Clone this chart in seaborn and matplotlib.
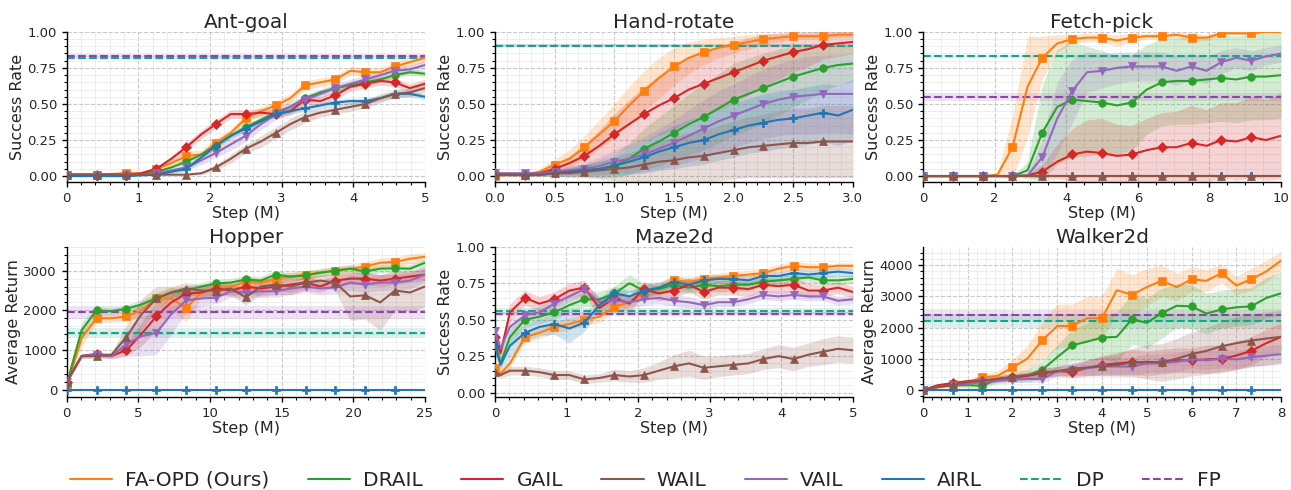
import numpy as np
import matplotlib
matplotlib.use("Agg")
import matplotlib.pyplot as plt
from matplotlib.lines import Line2D
from matplotlib.ticker import MultipleLocator, AutoMinorLocator, FormatStrFormatter
import seaborn as sns

# ============================================
# 数据
# ============================================
METHODS = ['FA-OPD (Ours)', 'DRAIL', 'GAIL', 'WAIL', 'VAIL', 'AIRL']
COLORS = {'FA-OPD (Ours)': '#ff7f0e', 'DRAIL': '#2ca02c', 'GAIL': '#d62728',
          'WAIL': '#8c564b', 'VAIL': '#9467bd', 'AIRL': '#1f77b4'}
MARKERS = {'FA-OPD (Ours)': 's', 'DRAIL': 'o', 'GAIL': 'D',
           'WAIL': '^', 'VAIL': 'v', 'AIRL': 'P'}
DP_COLOR = '#17a589'
FP_COLOR = '#8e44ad'

# --- Ant-goal ---
ant_x = [0, 0.21, 0.42, 0.62, 0.83, 1.04, 1.25, 1.46, 1.67, 1.88, 2.08, 2.29, 2.5,
         2.71, 2.92, 3.12, 3.33, 3.54, 3.75, 3.96, 4.17, 4.38, 4.58, 4.79, 5.0]
ant_faopd = [0.01, 0.01, 0.01, 0.015, 0.02, 0.02, 0.05, 0.09, 0.14, 0.15, 0.23, 0.30, 0.40,
             0.45, 0.49, 0.54, 0.63, 0.65, 0.67, 0.73, 0.72, 0.72, 0.76, 0.79, 0.82]
ant_drail = [0.01, 0.01, 0.01, 0.01, 0.01, 0.015, 0.03, 0.06, 0.10, 0.15, 0.21, 0.28, 0.34,
             0.39, 0.44, 0.48, 0.54, 0.58, 0.61, 0.63, 0.65, 0.67, 0.70, 0.72, 0.71]
ant_gail = [0.01, 0.01, 0.01, 0.01, 0.01, 0.02, 0.05, 0.12, 0.20, 0.29, 0.36, 0.43, 0.43,
            0.44, 0.43, 0.45, 0.53, 0.52, 0.56, 0.62, 0.64, 0.66, 0.65, 0.61, 0.64]
ant_wail = [0.01, 0.01, 0.01, 0.01, 0.01, 0.01, 0.01, 0.01, 0.01, 0.02, 0.06, 0.12, 0.19,
            0.24, 0.30, 0.36, 0.41, 0.44, 0.46, 0.48, 0.50, 0.54, 0.57, 0.58, 0.61]
ant_vail = [0.01, 0.01, 0.01, 0.01, 0.01, 0.01, 0.02, 0.04, 0.06, 0.11, 0.16, 0.22, 0.28,
            0.36, 0.43, 0.48, 0.53, 0.57, 0.61, 0.64, 0.67, 0.70, 0.73, 0.74, 0.77]
ant_airl = [0.0, 0.0, 0.0, 0.0, 0.0, 0.005, 0.01, 0.03, 0.05, 0.13, 0.21, 0.28, 0.33,
            0.38, 0.43, 0.45, 0.47, 0.49, 0.51, 0.52, 0.52, 0.54, 0.57, 0.57, 0.55]
ant_faopd_sd = [0, 0, 0, 0, 0.005, 0.005, 0.01, 0.02, 0.03, 0.03, 0.03, 0.03, 0.03,
                0.03, 0.03, 0.03, 0.03, 0.03, 0.03, 0.03, 0.03, 0.03, 0.03, 0.03, 0.03]
ant_drail_sd = [0, 0, 0, 0, 0, 0.005, 0.01, 0.015, 0.02, 0.02, 0.02, 0.02, 0.02,
                0.02, 0.02, 0.02, 0.02, 0.02, 0.02, 0.02, 0.02, 0.02, 0.02, 0.02, 0.02]
ant_gail_sd = [0, 0, 0, 0, 0, 0.005, 0.01, 0.02, 0.03, 0.03, 0.03, 0.03, 0.03,
               0.03, 0.03, 0.03, 0.03, 0.03, 0.03, 0.03, 0.03, 0.03, 0.03, 0.03, 0.03]
ant_wail_sd = [0, 0, 0, 0, 0, 0, 0, 0, 0.005, 0.01, 0.02, 0.03, 0.03,
               0.04, 0.04, 0.04, 0.04, 0.03, 0.03, 0.03, 0.03, 0.03, 0.03, 0.03, 0.03]
ant_vail_sd = [0, 0, 0, 0, 0, 0, 0.005, 0.01, 0.02, 0.03, 0.03, 0.04, 0.04,
               0.04, 0.04, 0.04, 0.03, 0.03, 0.03, 0.03, 0.03, 0.03, 0.03, 0.03, 0.03]
ant_airl_sd = [0, 0, 0, 0, 0, 0, 0.005, 0.01, 0.02, 0.02, 0.02, 0.02, 0.02,
               0.02, 0.02, 0.02, 0.02, 0.02, 0.02, 0.02, 0.02, 0.02, 0.02, 0.02, 0.02]
ant_dp, ant_dp_sd = 0.82, 0.01
ant_fp, ant_fp_sd = 0.835, 0.01

# --- Hand-rotate ---
hand_x = [0, 0.125, 0.25, 0.375, 0.5, 0.625, 0.75, 0.875, 1.0, 1.125, 1.25, 1.375, 1.5,
          1.625, 1.75, 1.875, 2.0, 2.125, 2.25, 2.375, 2.5, 2.625, 2.75, 2.875, 3.0]
hand_faopd = [0.0, 0.01, 0.01, 0.03, 0.08, 0.12, 0.20, 0.29, 0.38, 0.49, 0.59, 0.68, 0.76,
              0.82, 0.86, 0.89, 0.91, 0.93, 0.95, 0.96, 0.97, 0.97, 0.97, 0.98, 0.98]
hand_drail = [0.01, 0.01, 0.01, 0.01, 0.02, 0.03, 0.04, 0.05, 0.07, 0.12, 0.19, 0.24, 0.30,
              0.36, 0.41, 0.47, 0.53, 0.57, 0.61, 0.65, 0.69, 0.72, 0.75, 0.77, 0.78]
hand_gail = [0.02, 0.01, 0.01, 0.02, 0.05, 0.09, 0.14, 0.21, 0.29, 0.36, 0.43, 0.49, 0.54,
             0.60, 0.64, 0.68, 0.72, 0.76, 0.80, 0.83, 0.86, 0.88, 0.91, 0.92, 0.93]
hand_wail = [0.01, 0.01, 0.01, 0.01, 0.02, 0.02, 0.03, 0.04, 0.05, 0.06, 0.08, 0.10, 0.11,
             0.13, 0.14, 0.16, 0.18, 0.20, 0.21, 0.22, 0.23, 0.23, 0.24, 0.24, 0.24]
hand_vail = [0.02, 0.02, 0.02, 0.02, 0.03, 0.04, 0.05, 0.07, 0.10, 0.12, 0.15, 0.19, 0.23,
             0.28, 0.33, 0.38, 0.42, 0.46, 0.50, 0.53, 0.55, 0.56, 0.57, 0.57, 0.57]
hand_airl = [0.01, 0.01, 0.01, 0.01, 0.02, 0.03, 0.04, 0.05, 0.07, 0.10, 0.13, 0.17, 0.20,
             0.23, 0.25, 0.29, 0.32, 0.35, 0.37, 0.39, 0.40, 0.42, 0.44, 0.42, 0.46]
hand_faopd_sd = [0.005, 0.01, 0.01, 0.02, 0.04, 0.06, 0.08, 0.10, 0.12, 0.13, 0.14, 0.14, 0.13,
                 0.11, 0.09, 0.07, 0.06, 0.05, 0.04, 0.03, 0.02, 0.02, 0.02, 0.02, 0.02]
hand_drail_sd = [0.005, 0.005, 0.01, 0.01, 0.02, 0.03, 0.04, 0.06, 0.08, 0.11, 0.14, 0.17, 0.19,
                 0.21, 0.23, 0.24, 0.25, 0.25, 0.24, 0.23, 0.21, 0.19, 0.16, 0.14, 0.12]
hand_gail_sd = [0.005, 0.01, 0.01, 0.02, 0.03, 0.05, 0.08, 0.11, 0.14, 0.17, 0.19, 0.21, 0.22,
                0.22, 0.22, 0.22, 0.21, 0.20, 0.18, 0.16, 0.14, 0.12, 0.10, 0.09, 0.08]
hand_wail_sd = [0.005, 0.01, 0.01, 0.01, 0.02, 0.03, 0.04, 0.06, 0.08, 0.10, 0.12, 0.14, 0.16,
                0.17, 0.18, 0.19, 0.20, 0.21, 0.22, 0.23, 0.24, 0.24, 0.25, 0.25, 0.25]
hand_vail_sd = [0.01, 0.01, 0.01, 0.01, 0.02, 0.03, 0.04, 0.06, 0.08, 0.10, 0.12, 0.14, 0.16,
                0.18, 0.20, 0.21, 0.22, 0.23, 0.24, 0.25, 0.26, 0.27, 0.27, 0.27, 0.28]
hand_airl_sd = [0.005, 0.01, 0.01, 0.01, 0.02, 0.03, 0.04, 0.05, 0.07, 0.09, 0.11, 0.13, 0.15,
                0.16, 0.17, 0.18, 0.19, 0.19, 0.20, 0.20, 0.20, 0.20, 0.20, 0.21, 0.21]
hand_dp, hand_dp_sd = 0.905, 0.01
hand_fp, hand_fp_sd = 0.905, 0.012

# --- Fetch-pick ---
fetch_x = [0, 0.42, 0.83, 1.25, 1.67, 2.08, 2.5, 2.92, 3.33, 3.75, 4.17, 4.58, 5.0,
           5.42, 5.83, 6.25, 6.67, 7.08, 7.5, 7.92, 8.33, 8.75, 9.17, 9.58, 10.0]
fetch_faopd = [0, 0, 0, 0, 0, 0.01, 0.20, 0.62, 0.82, 0.92, 0.95, 0.96, 0.96,
               0.94, 0.96, 0.97, 0.97, 0.98, 0.96, 0.96, 0.99, 0.99, 0.99, 1.0, 1.0]
fetch_drail = [0, 0, 0, 0, 0, 0, 0, 0.04, 0.30, 0.48, 0.53, 0.52, 0.51,
               0.49, 0.51, 0.60, 0.65, 0.66, 0.66, 0.67, 0.68, 0.67, 0.69, 0.69, 0.70]
fetch_gail = [0, 0, 0, 0, 0, 0, 0, 0.005, 0.03, 0.10, 0.15, 0.17, 0.16,
              0.14, 0.15, 0.18, 0.20, 0.20, 0.23, 0.21, 0.25, 0.24, 0.27, 0.25, 0.28]
fetch_wail = [0, 0, 0, 0, 0, 0, 0, 0, 0, 0, 0, 0, 0,
              0, 0, 0, 0, 0, 0, 0, 0, 0, 0, 0, 0]
fetch_vail = [0, 0, 0, 0, 0, 0, 0, 0.005, 0.13, 0.40, 0.59, 0.72, 0.73,
              0.75, 0.76, 0.76, 0.76, 0.73, 0.76, 0.73, 0.79, 0.82, 0.80, 0.83, 0.85]
fetch_airl = [0, 0, 0, 0, 0, 0, 0, 0, 0, 0, 0, 0, 0,
              0, 0, 0, 0, 0, 0, 0, 0, 0, 0, 0, 0]
fetch_faopd_sd = [0, 0, 0, 0, 0, 0.01, 0.22, 0.35, 0.15, 0.06, 0.03, 0.03, 0.03,
                  0.04, 0.03, 0.02, 0.02, 0.02, 0.03, 0.02, 0.01, 0.01, 0.01, 0.01, 0.01]
fetch_drail_sd = [0, 0, 0, 0, 0, 0, 0, 0.06, 0.33, 0.40, 0.40, 0.38, 0.36,
                  0.34, 0.33, 0.31, 0.30, 0.30, 0.30, 0.30, 0.30, 0.30, 0.30, 0.30, 0.30]
fetch_gail_sd = [0, 0, 0, 0, 0, 0, 0, 0.01, 0.05, 0.12, 0.18, 0.22, 0.24,
                 0.22, 0.20, 0.22, 0.24, 0.25, 0.26, 0.25, 0.26, 0.27, 0.28, 0.28, 0.30]
fetch_wail_sd = [0, 0, 0, 0, 0, 0, 0, 0, 0, 0, 0, 0, 0,
                 0, 0, 0, 0, 0, 0, 0, 0, 0, 0, 0, 0]
fetch_vail_sd = [0, 0, 0, 0, 0, 0, 0, 0.01, 0.12, 0.25, 0.22, 0.14, 0.12,
                 0.11, 0.10, 0.10, 0.10, 0.10, 0.09, 0.09, 0.08, 0.07, 0.07, 0.06, 0.06]
fetch_airl_sd = [0, 0, 0, 0, 0, 0, 0, 0, 0, 0, 0, 0, 0,
                 0, 0, 0, 0, 0, 0, 0, 0, 0, 0, 0, 0]
fetch_dp, fetch_dp_sd = 0.83, 0.01
fetch_fp, fetch_fp_sd = 0.548, 0.03

# --- Hopper ---
hop_x = [0, 1.04, 2.08, 3.12, 4.17, 5.21, 6.25, 7.29, 8.33, 9.38, 10.42, 11.46, 12.5,
         13.54, 14.58, 15.62, 16.67, 17.71, 18.75, 19.79, 20.83, 21.88, 22.92, 23.96, 25.0]
hop_faopd = [100, 1300, 1800, 1800, 1850, 2000, 2300, 2300, 2060, 2450, 2550, 2600, 2730,
             2700, 2800, 2850, 2900, 2950, 3000, 3050, 3100, 3200, 3220, 3300, 3350]
hop_drail = [150, 1500, 2000, 1980, 2040, 2150, 2300, 2450, 2500, 2600, 2680, 2700, 2780,
             2750, 2900, 2850, 2880, 2950, 3000, 3050, 2980, 3050, 3060, 3050, 3200]
hop_gail = [200, 850, 900, 850, 1000, 1400, 1850, 2200, 2420, 2450, 2550, 2500, 2600,
            2550, 2600, 2650, 2700, 2600, 2750, 2800, 2800, 2750, 2800, 2850, 2900]
hop_wail = [200, 850, 850, 880, 1330, 1900, 2300, 2450, 2550, 2500, 2500, 2550, 2330,
            2600, 2650, 2600, 2700, 2750, 2700, 2350, 2380, 2200, 2500, 2450, 2600]
hop_vail = [200, 850, 880, 850, 1150, 1350, 1430, 1900, 2250, 2300, 2320, 2480, 2450,
            2480, 2480, 2550, 2600, 2550, 2580, 2700, 2650, 2700, 2700, 2750, 2900]
hop_airl = [0, 0, 0, 0, 0, 0, 0, 0, 0, 0, 0, 0, 0,
            0, 0, 0, 0, 0, 0, 0, 0, 0, 0, 0, 0]
hop_faopd_sd = [50, 200, 120, 100, 120, 150, 150, 300, 350, 150, 100, 100, 100,
                100, 120, 120, 100, 100, 100, 100, 120, 120, 120, 120, 100]
hop_drail_sd = [50, 200, 100, 80, 100, 100, 120, 120, 100, 100, 100, 100, 100,
                100, 100, 100, 100, 100, 100, 100, 100, 100, 100, 100, 100]
hop_gail_sd = [50, 50, 60, 60, 150, 300, 350, 300, 200, 150, 150, 150, 150,
               200, 200, 250, 200, 150, 150, 150, 150, 150, 150, 150, 150]
hop_wail_sd = [50, 50, 60, 60, 300, 400, 300, 150, 150, 150, 150, 150, 200,
               200, 150, 150, 150, 150, 200, 600, 600, 700, 500, 500, 500]
hop_vail_sd = [50, 50, 60, 80, 300, 500, 550, 500, 300, 200, 150, 150, 150,
               150, 150, 150, 150, 150, 150, 200, 200, 200, 200, 200, 200]
hop_airl_sd = [0, 0, 0, 0, 0, 0, 0, 0, 0, 0, 0, 0, 0,
               0, 0, 0, 0, 0, 0, 0, 0, 0, 0, 0, 0]
hop_dp, hop_dp_sd = 1430, 120
hop_fp, hop_fp_sd = 1950, 160

# --- Maze2d ---
maze_x = [0, 0.08, 0.21, 0.42, 0.62, 0.83, 1.04, 1.25, 1.46, 1.67, 1.88, 2.08, 2.29,
          2.5, 2.71, 2.92, 3.12, 3.33, 3.54, 3.75, 3.96, 4.17, 4.38, 4.58, 4.79, 5.0]
maze_faopd = [0.17, 0.13, 0.20, 0.38, 0.41, 0.45, 0.47, 0.50, 0.52, 0.59, 0.62, 0.68, 0.72,
              0.77, 0.76, 0.78, 0.79, 0.80, 0.81, 0.82, 0.85, 0.87, 0.86, 0.86, 0.87, 0.87]
maze_drail = [0.35, 0.20, 0.38, 0.50, 0.52, 0.55, 0.60, 0.64, 0.64, 0.68, 0.75, 0.70, 0.71,
              0.74, 0.72, 0.74, 0.73, 0.74, 0.74, 0.76, 0.77, 0.78, 0.79, 0.77, 0.77, 0.78]
maze_gail = [0.38, 0.27, 0.55, 0.65, 0.61, 0.64, 0.70, 0.72, 0.58, 0.65, 0.61, 0.71, 0.68,
             0.70, 0.74, 0.69, 0.72, 0.72, 0.71, 0.74, 0.73, 0.74, 0.70, 0.70, 0.72, 0.69]
maze_wail = [0.14, 0.12, 0.15, 0.15, 0.14, 0.12, 0.12, 0.09, 0.10, 0.12, 0.11, 0.12, 0.15,
             0.18, 0.20, 0.17, 0.18, 0.19, 0.20, 0.23, 0.25, 0.23, 0.26, 0.28, 0.30, 0.29]
maze_vail = [0.42, 0.30, 0.45, 0.53, 0.55, 0.61, 0.66, 0.71, 0.62, 0.63, 0.62, 0.64, 0.65,
             0.63, 0.62, 0.60, 0.62, 0.62, 0.64, 0.67, 0.66, 0.67, 0.66, 0.66, 0.63, 0.64]
maze_airl = [0.32, 0.19, 0.32, 0.41, 0.45, 0.47, 0.44, 0.48, 0.60, 0.68, 0.66, 0.70, 0.72,
             0.76, 0.74, 0.77, 0.78, 0.78, 0.77, 0.80, 0.80, 0.82, 0.81, 0.82, 0.83, 0.82]
maze_faopd_sd = [0.03, 0.02, 0.03, 0.04, 0.04, 0.04, 0.04, 0.04, 0.04, 0.04, 0.03, 0.03, 0.03,
                 0.03, 0.03, 0.03, 0.03, 0.03, 0.03, 0.03, 0.03, 0.03, 0.03, 0.02, 0.02, 0.02]
maze_drail_sd = [0.05, 0.04, 0.05, 0.05, 0.05, 0.05, 0.05, 0.05, 0.05, 0.05, 0.06, 0.05, 0.04,
                 0.04, 0.04, 0.04, 0.04, 0.04, 0.04, 0.03, 0.03, 0.03, 0.03, 0.03, 0.03, 0.03]
maze_gail_sd = [0.05, 0.05, 0.06, 0.05, 0.05, 0.05, 0.05, 0.05, 0.06, 0.06, 0.06, 0.05, 0.05,
                0.05, 0.05, 0.05, 0.05, 0.05, 0.05, 0.05, 0.05, 0.05, 0.05, 0.04, 0.04, 0.04]
maze_wail_sd = [0.02, 0.02, 0.03, 0.03, 0.03, 0.03, 0.03, 0.03, 0.03, 0.04, 0.04, 0.05, 0.06,
                0.08, 0.09, 0.08, 0.07, 0.07, 0.07, 0.07, 0.08, 0.08, 0.08, 0.09, 0.09, 0.09]
maze_vail_sd = [0.05, 0.05, 0.05, 0.04, 0.04, 0.04, 0.04, 0.04, 0.04, 0.04, 0.04, 0.04, 0.04,
                0.04, 0.04, 0.03, 0.03, 0.03, 0.03, 0.03, 0.03, 0.03, 0.03, 0.03, 0.03, 0.03]
maze_airl_sd = [0.05, 0.05, 0.08, 0.06, 0.06, 0.07, 0.10, 0.06, 0.05, 0.05, 0.04, 0.04, 0.04,
                0.04, 0.04, 0.04, 0.03, 0.03, 0.03, 0.03, 0.03, 0.03, 0.03, 0.03, 0.03, 0.03]
maze_dp, maze_dp_sd = 0.56, 0.02
maze_fp, maze_fp_sd = 0.54, 0.015

# --- Walker2d ---
walk_x = [0, 0.33, 0.67, 1.0, 1.33, 1.67, 2.0, 2.33, 2.67, 3.0, 3.33, 3.67, 4.0,
          4.33, 4.67, 5.0, 5.33, 5.67, 6.0, 6.33, 6.67, 7.0, 7.33, 7.67, 8.0]
walk_faopd = [0, 80, 200, 250, 400, 450, 720, 1000, 1600, 2050, 2050, 2300, 2300,
              3200, 3050, 3300, 3500, 3300, 3550, 3500, 3750, 3350, 3550, 3800, 4150]
walk_drail = [0, 100, 150, 150, 130, 350, 400, 450, 650, 1050, 1430, 1550, 1680,
              1700, 2270, 2150, 2460, 2700, 2680, 2450, 2580, 2650, 2680, 2950, 3100]
walk_gail = [0, 150, 220, 280, 300, 350, 400, 450, 530, 600, 580, 700, 800,
             850, 900, 850, 900, 950, 950, 980, 1000, 1100, 1250, 1500, 1700]
walk_wail = [0, 100, 150, 250, 300, 350, 420, 480, 560, 600, 680, 720, 760,
             800, 880, 900, 880, 1000, 1150, 1250, 1400, 1500, 1580, 1650, 1700]
walk_vail = [0, 100, 150, 200, 250, 300, 330, 350, 350, 600, 650, 700, 750,
             750, 750, 850, 850, 900, 980, 950, 1000, 980, 1050, 1100, 1150]
walk_airl = [0, 0, 0, 0, 0, 0, 0, 0, 0, 0, 0, 0, 0,
             0, 0, 0, 0, 0, 0, 0, 0, 0, 0, 0, 0]
walk_faopd_sd = [0, 30, 60, 80, 100, 150, 250, 400, 600, 700, 700, 700, 700,
                 700, 650, 600, 500, 450, 400, 350, 300, 300, 350, 350, 300]
walk_drail_sd = [0, 30, 60, 80, 100, 100, 150, 200, 300, 400, 500, 600, 700,
                 800, 800, 800, 800, 700, 700, 650, 600, 600, 600, 650, 700]
walk_gail_sd = [0, 30, 50, 60, 80, 100, 100, 100, 150, 150, 200, 250, 300,
                350, 400, 400, 400, 400, 400, 450, 450, 450, 450, 450, 450]
walk_wail_sd = [0, 30, 50, 60, 80, 100, 100, 100, 150, 150, 200, 250, 300,
                350, 450, 550, 600, 650, 700, 750, 800, 850, 850, 850, 850]
walk_vail_sd = [0, 30, 50, 60, 80, 100, 100, 100, 120, 150, 200, 250, 300,
                300, 300, 300, 300, 300, 300, 300, 300, 300, 300, 300, 300]
walk_airl_sd = [0, 0, 0, 0, 0, 0, 0, 0, 0, 0, 0, 0, 0,
                0, 0, 0, 0, 0, 0, 0, 0, 0, 0, 0, 0]
walk_dp, walk_dp_sd = 2220, 220
walk_fp, walk_fp_sd = 2390, 170

# ============================================
# 面板配置
# ============================================
MARKS_25 = list(range(0, 23, 2))
MARKS_MAZE = [0] + list(range(3, 24, 2))

PANELS = [
    dict(title='Ant-goal', x=ant_x,
         mean=[ant_faopd, ant_drail, ant_gail, ant_wail, ant_vail, ant_airl],
         sd=[ant_faopd_sd, ant_drail_sd, ant_gail_sd, ant_wail_sd, ant_vail_sd, ant_airl_sd],
         dp=(ant_dp, ant_dp_sd), fp=(ant_fp, ant_fp_sd),
         xmax=5, xstep=1, ylim=(-0.04, 1.0), ystep=0.25, ylabel='Success Rate', marks=MARKS_25),
    dict(title='Hand-rotate', x=hand_x,
         mean=[hand_faopd, hand_drail, hand_gail, hand_wail, hand_vail, hand_airl],
         sd=[hand_faopd_sd, hand_drail_sd, hand_gail_sd, hand_wail_sd, hand_vail_sd, hand_airl_sd],
         dp=(hand_dp, hand_dp_sd), fp=(hand_fp, hand_fp_sd),
         xmax=3, xstep=0.5, ylim=(-0.04, 1.0), ystep=0.25, ylabel='Success Rate', marks=MARKS_25),
    dict(title='Fetch-pick', x=fetch_x,
         mean=[fetch_faopd, fetch_drail, fetch_gail, fetch_wail, fetch_vail, fetch_airl],
         sd=[fetch_faopd_sd, fetch_drail_sd, fetch_gail_sd, fetch_wail_sd, fetch_vail_sd, fetch_airl_sd],
         dp=(fetch_dp, fetch_dp_sd), fp=(fetch_fp, fetch_fp_sd),
         xmax=10, xstep=2, ylim=(-0.04, 1.0), ystep=0.25, ylabel='Success Rate', marks=MARKS_25),
    dict(title='Hopper', x=hop_x,
         mean=[hop_faopd, hop_drail, hop_gail, hop_wail, hop_vail, hop_airl],
         sd=[hop_faopd_sd, hop_drail_sd, hop_gail_sd, hop_wail_sd, hop_vail_sd, hop_airl_sd],
         dp=(hop_dp, hop_dp_sd), fp=(hop_fp, hop_fp_sd),
         xmax=25, xstep=5, ylim=(-180, 3600), ystep=1000, ylabel='Average Return', marks=MARKS_25),
    dict(title='Maze2d', x=maze_x,
         mean=[maze_faopd, maze_drail, maze_gail, maze_wail, maze_vail, maze_airl],
         sd=[maze_faopd_sd, maze_drail_sd, maze_gail_sd, maze_wail_sd, maze_vail_sd, maze_airl_sd],
         dp=(maze_dp, maze_dp_sd), fp=(maze_fp, maze_fp_sd),
         xmax=5, xstep=1, ylim=(-0.03, 1.0), ystep=0.25, ylabel='Success Rate', marks=MARKS_MAZE),
    dict(title='Walker2d', x=walk_x,
         mean=[walk_faopd, walk_drail, walk_gail, walk_wail, walk_vail, walk_airl],
         sd=[walk_faopd_sd, walk_drail_sd, walk_gail_sd, walk_wail_sd, walk_vail_sd, walk_airl_sd],
         dp=(walk_dp, walk_dp_sd), fp=(walk_fp, walk_fp_sd),
         xmax=8, xstep=1, ylim=(-225, 4590), ystep=1000, ylabel='Average Return', marks=MARKS_25),
]

# 绘制顺序（WAIL 放最后，使其压在 AIRL 的零线上面）
DRAW_ORDER = ['FA-OPD (Ours)', 'DRAIL', 'GAIL', 'VAIL', 'AIRL', 'WAIL']

# ============================================
# 绘图
# ============================================
sns.set_theme(style="ticks")
plt.rcParams['font.family'] = ['DejaVu Sans']


def draw_panel(ax, p):
    curves = dict(zip(METHODS, p['mean']))
    bands = dict(zip(METHODS, p['sd']))
    x = np.array(p['x'])

    # baselines: FP first so DP sits on top
    for (val, sd), col in [(p['fp'], FP_COLOR), (p['dp'], DP_COLOR)]:
        ax.axhspan(val - sd, val + sd, color=col, alpha=0.15, lw=0, zorder=1)
        ax.axhline(val, color=col, ls='--', lw=1.5, zorder=2)

    for name in DRAW_ORDER:
        y = np.array(curves[name], dtype=float)
        s = np.array(bands[name], dtype=float)
        ax.fill_between(x, y - s, y + s, color=COLORS[name], alpha=0.2, lw=0, zorder=1)

    for name in DRAW_ORDER:
        sns.lineplot(x=x, y=curves[name], ax=ax, color=COLORS[name], lw=1.5,
                     marker=MARKERS[name], markevery=p['marks'], markersize=5.5,
                     markeredgecolor=COLORS[name], markeredgewidth=0.5,
                     errorbar=None, legend=False, zorder=3)

    ax.set_xlim(0, p['xmax'])
    ax.set_ylim(*p['ylim'])
    ax.xaxis.set_major_locator(MultipleLocator(p['xstep']))
    ax.yaxis.set_major_locator(MultipleLocator(p['ystep']))
    ax.xaxis.set_minor_locator(AutoMinorLocator())
    ax.yaxis.set_minor_locator(AutoMinorLocator())
    if p['ystep'] < 1:
        ax.yaxis.set_major_formatter(FormatStrFormatter('%.2f'))
    if p['xstep'] < 1:
        ax.xaxis.set_major_formatter(FormatStrFormatter('%.1f'))

    ax.grid(which='major', ls='--', color='#c8c8c8', lw=0.8)
    ax.grid(which='minor', ls='-', color='#ebebeb', lw=0.6)
    ax.set_axisbelow(True)
    sns.despine(ax=ax)
    ax.tick_params(which='major', labelsize=9.5, length=3.5, width=1, color='black')
    ax.tick_params(which='minor', length=2, width=0.8, color='black')
    for sp in ('left', 'bottom'):
        ax.spines[sp].set_color('black')
        ax.spines[sp].set_linewidth(1.0)

    ax.set_title(p['title'], fontsize=14.5, pad=3)
    ax.set_xlabel('Step (M)', fontsize=11.5, labelpad=1)
    ax.set_ylabel(p['ylabel'], fontsize=11.5, labelpad=2)


fig, axes = plt.subplots(2, 3, figsize=(12.91, 4.9), dpi=100)
fig.subplots_adjust(left=0.0517, right=0.9923, top=0.935, bottom=0.19,
                    wspace=0.1955, hspace=0.433)

for ax, p in zip(axes.flat, PANELS):
    draw_panel(ax, p)

handles = [Line2D([0], [0], color=COLORS[m], lw=1.5) for m in METHODS]
handles += [Line2D([0], [0], color=DP_COLOR, lw=1.5, ls='--'),
            Line2D([0], [0], color=FP_COLOR, lw=1.5, ls='--')]
labels = METHODS + ['DP', 'FP']
fig.legend(handles, labels, loc='center', bbox_to_anchor=(0.5, 0.02), ncol=8,
           frameon=False, fontsize=14.5, handlelength=2.1, handletextpad=0.65,
           columnspacing=1.9)

fig.savefig('out.png', dpi=100)
